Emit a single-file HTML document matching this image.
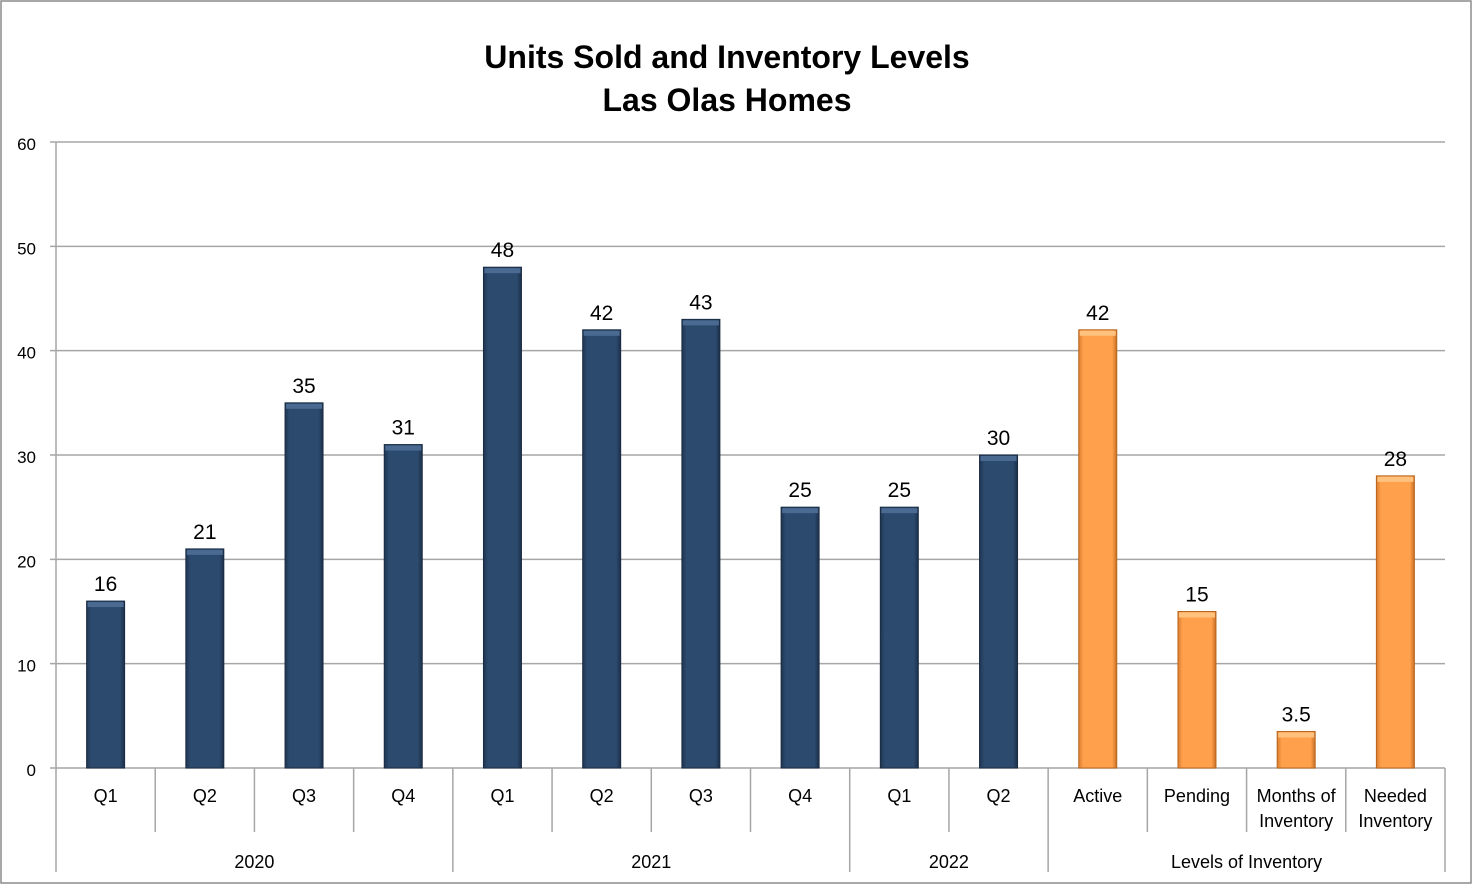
<!DOCTYPE html>
<html><head><meta charset="utf-8"><style>
body{margin:0;background:#fff;}
svg text{font-family:"Liberation Sans",sans-serif;}
</style></head><body>
<svg id="c" width="1473" height="885" xmlns="http://www.w3.org/2000/svg">
<defs>
<linearGradient id="gb" x1="0" x2="1"><stop offset="0" stop-color="#1f3550"/><stop offset="0.12" stop-color="#2c4a6e"/><stop offset="0.88" stop-color="#2c4a6e"/><stop offset="1" stop-color="#1c2f48"/></linearGradient>
<linearGradient id="go" x1="0" x2="1"><stop offset="0" stop-color="#d97d2e"/><stop offset="0.12" stop-color="#ffa04c"/><stop offset="0.88" stop-color="#ffa04c"/><stop offset="1" stop-color="#c86f24"/></linearGradient>
</defs>
<rect x="1" y="1" width="1470" height="882" fill="#fff" stroke="#8c8c8c" stroke-width="1.5"/>
<text x="727" y="68" text-anchor="middle" font-size="32" font-weight="bold">Units Sold and Inventory Levels</text>
<text x="727" y="111" text-anchor="middle" font-size="32" font-weight="bold">Las Olas Homes</text>
</svg>
<script>
const categories=["Q1","Q2","Q3","Q4","Q1","Q2","Q3","Q4","Q1","Q2","Active","Pending","Months of|Inventory","Needed|Inventory"];
const values=[16,21,35,31,48,42,43,25,25,30,42,15,3.5,28];
const valueLabels=["16","21","35","31","48","42","43","25","25","30","42","15","3.5","28"];
const groups=["2020","2021","2022","Levels of Inventory"];
const groupSizes=[4,4,2,4];
const yTicks=[0,10,20,30,40,50,60];
const svg=document.getElementById('c');const NS="http://www.w3.org/2000/svg";
const X0=56,X1=1445,Y0=768,Y1=142,YMAX=60;
const bw=(X1-X0)/categories.length;
const y=v=>Y0-(v/YMAX)*(Y0-Y1);
const x=i=>X0+bw*(i+0.5);
function mk(t,a,txt){const e=document.createElementNS(NS,t);for(const k in a)e.setAttribute(k,a[k]);if(txt!==undefined)e.textContent=txt;svg.appendChild(e);return e;}
yTicks.forEach(t=>{
 const g=mk('line',{x1:X0-6,x2:X1,y1:y(t),y2:y(t),stroke:'#a6a6a6','stroke-width':1.5});
 
 
 const l=mk('text',{x:36,y:y(t)+8,'text-anchor':'end','font-size':17},String(t));
 
 
});
const ax=mk('line',{x1:X0,x2:X0,y1:Y1,y2:872,stroke:'#a6a6a6','stroke-width':1.5});


const gEnds=[];let acc=0;groupSizes.forEach(s=>{acc+=s;gEnds.push(acc);});
for(let i=1;i<=categories.length;i++){
 const isG=gEnds.includes(i);
 const xx=X0+bw*i;
 const tl=mk('line',{x1:xx,x2:xx,y1:Y0,y2:isG?872:832,stroke:'#a6a6a6','stroke-width':1.5});
 
 
}
categories.forEach((c,i)=>{
 const w=38,h=Y0-y(values[i]);
 const orange=i>=10;
 const r=mk('rect',{x:x(i)-w/2,y:y(values[i]),width:w,height:h,fill:orange?'url(#go)':'url(#gb)',stroke:orange?'#b8661f':'#1a2c44','stroke-width':1});
 
 
 const hl=mk('rect',{x:x(i)-w/2+1,y:y(values[i])+1,width:w-2,height:Math.min(5,h),fill:orange?'#ffc27e':'#4a6a92'});
 
 
 const vl=mk('text',{x:x(i),y:y(values[i])-10,'text-anchor':'middle','font-size':21},valueLabels[i]);
 
 
 const parts=c.split('|');
 parts.forEach((p,k)=>{
  const cl=mk('text',{x:x(i),y:802+k*25,'text-anchor':'middle','font-size':18},p);
  
  
 });
});
let st=0;groups.forEach((g,gi)=>{
 const cx=X0+bw*(st+groupSizes[gi]/2);
 const t=mk('text',{x:cx,y:868,'text-anchor':'middle','font-size':18},g);
 
 
 st+=groupSizes[gi];
});
</script>
</body></html>
